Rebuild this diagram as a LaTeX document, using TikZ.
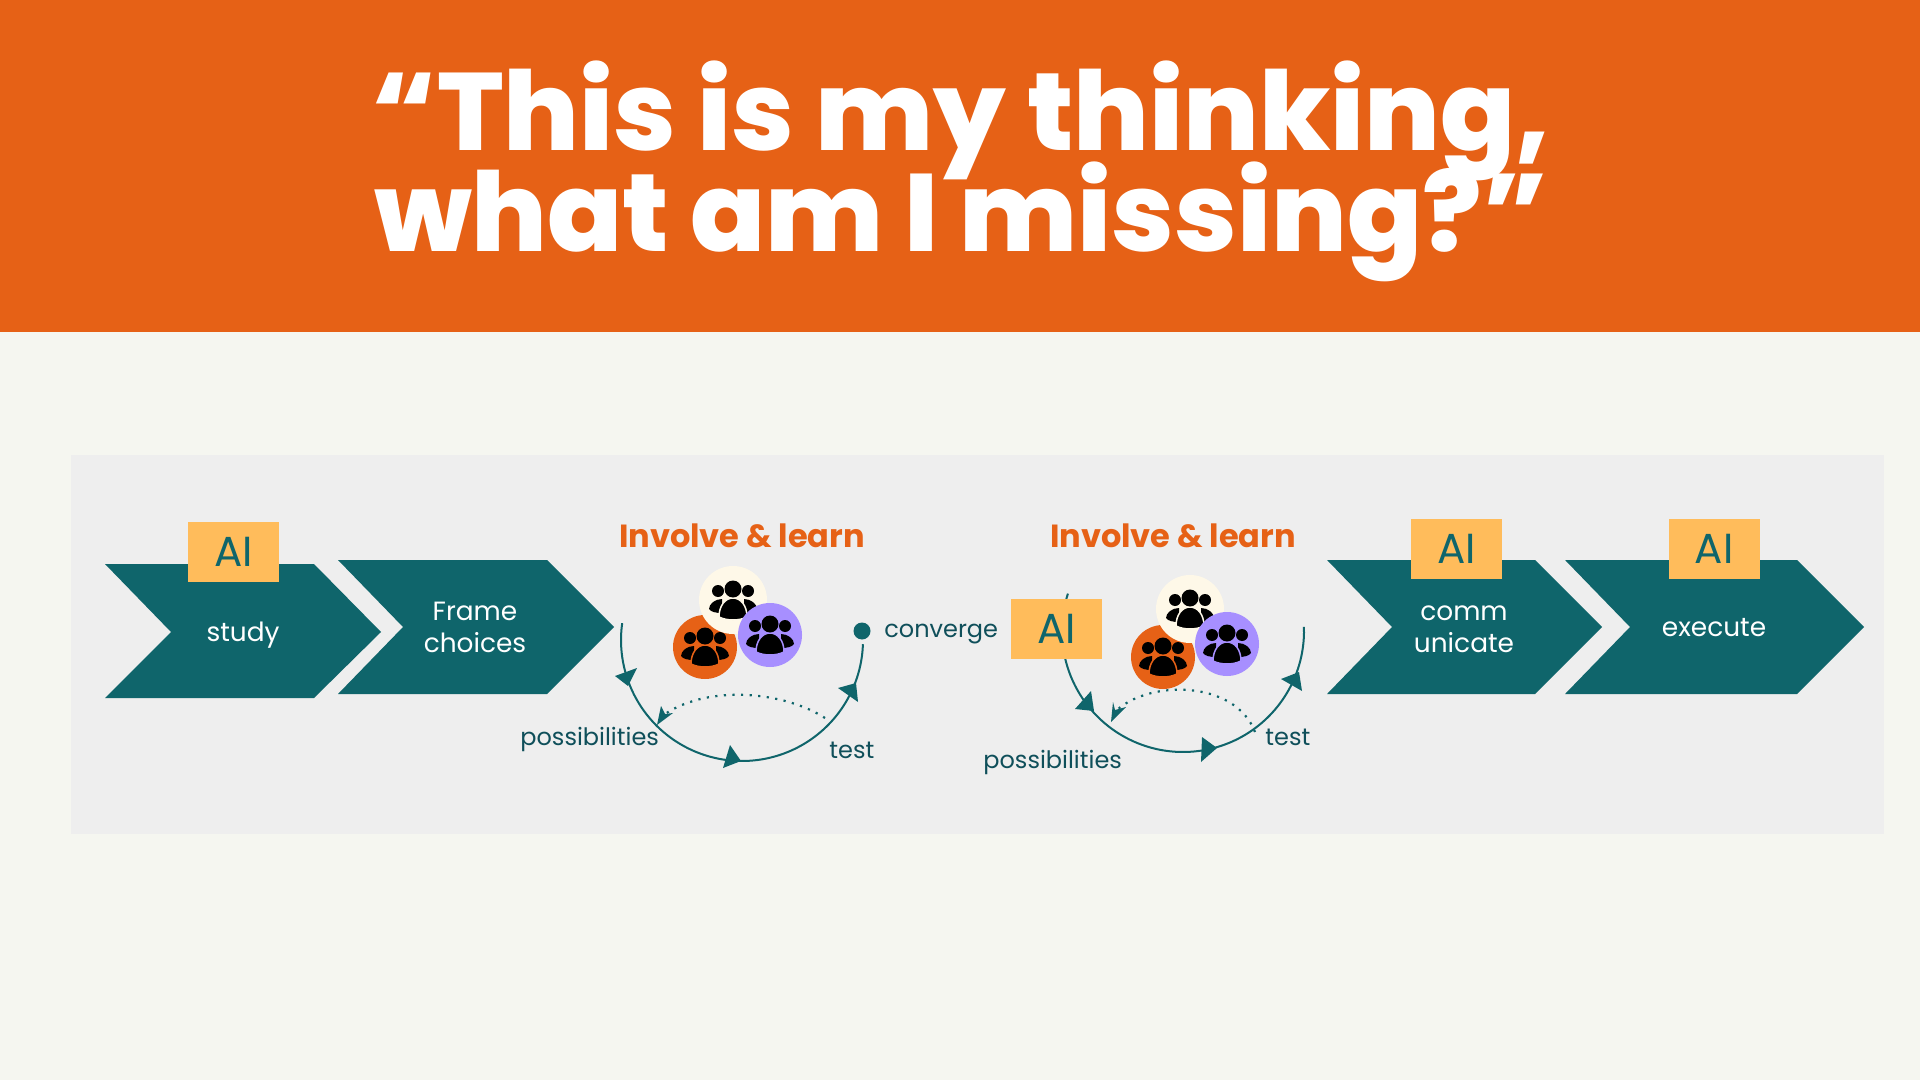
\documentclass[tikz,border=0pt]{standalone}
\usepackage{fontspec}
\setmainfont{Poppins}
\newfontfamily\titlefont{Poppins}[UprightFont=* ExtraBold,FakeStretch=1.005]
\definecolor{bgc}{HTML}{F5F6F0}
\definecolor{panelc}{HTML}{EEEEEE}
\definecolor{orangec}{HTML}{E66116}
\definecolor{tealc}{HTML}{0F656B}
\definecolor{labelc}{HTML}{0F4F5A}
\definecolor{aic}{HTML}{FFBC5B}
\definecolor{creamc}{HTML}{FEF8E8}
\definecolor{purplec}{HTML}{A78FFF}
\tikzset{
  x=0.5pt,y=-0.5pt,
  chev/.style={fill=tealc},
  chevtext/.style={text=white,font=\fontsize{13.2}{16}\selectfont,anchor=base,inner sep=0pt},
  flowlabel/.style={text=labelc,font=\fontsize{12}{16}\selectfont,anchor=base west,inner sep=0pt},
  headlabel/.style={text=orangec,font=\fontsize{16}{20}\selectfont\bfseries,anchor=base,inner sep=0pt},
  titletext/.style={text=white,font=\fontsize{55}{60}\selectfont\titlefont,anchor=base,inner sep=0pt},
  aibox/.style={fill=aic,text=tealc,inner sep=0pt,minimum width=45.5pt,minimum height=30pt,font=\fontsize{21}{22}\selectfont},
  disc/.style={circle,inner sep=0pt,minimum size=#1},
  flowline/.style={draw=tealc,line width=1pt},
  dotline/.style={draw=tealc,line width=1.1pt,dash pattern=on 1.1pt off 3.2pt},
  headfill/.style={fill=tealc},
  pics/people/.style={code={
    \fill[black] (-15,-9) circle (6);
    \fill[black] (15,-9) circle (6);
    \fill[black] (-11,-1) .. controls (-18,-1) and (-24,4) .. (-24,9) .. controls (-22,12) and (-17,13) .. (-11,13) -- cycle;
    \fill[black] (11,-1) .. controls (18,-1) and (24,4) .. (24,9) .. controls (22,12) and (17,13) .. (11,13) -- cycle;
    \fill[black,draw=#1,line width=0.75pt] (-14,17) .. controls (-14,6) and (-8,-2) .. (0,-2) .. controls (8,-2) and (14,6) .. (14,17) .. controls (6,21) and (-6,21) .. (-14,17) -- cycle;
    \fill[black] (0,-11) circle (8.5);
  }}
}
\begin{document}
\begin{tikzpicture}
\useasboundingbox (0,0) rectangle (1920,1080);
\fill[bgc] (0,0) rectangle (1920,1080);
\fill[orangec] (0,0) rectangle (1920,332);
\fill[panelc] (71,455) rectangle (1884,834);

\node[titletext] (title1) at (961,151) {“This is my thinking,};
\node[titletext] (title2) at (961,252) {what am I missing?”};

% chevrons
\fill[chev] (105,564) -- (314,564) -- (381,632) -- (314,698) -- (105,698) -- (171,632) -- cycle;
\fill[chev] (338,560) -- (547,560) -- (614,627) -- (547,694) -- (338,694) -- (403,627) -- cycle;
\fill[chev] (1327,560) -- (1535,560) -- (1602,627) -- (1535,694) -- (1327,694) -- (1392,627) -- cycle;
\fill[chev] (1565,560) -- (1797,560) -- (1864,627) -- (1797,694) -- (1565,694) -- (1630,627) -- cycle;

\node[chevtext] (study) at (243,641) {study};
\node[chevtext] (frame1) at (475,620) {Frame};
\node[chevtext] (frame2) at (475,652) {choices};
\node[chevtext] (comm1) at (1464,620) {comm};
\node[chevtext] (comm2) at (1464,652) {unicate};
\node[chevtext] (execute) at (1714,636) {execute};

\node[aibox] (aiA) at (233.5,551.5) {AI};
\node[aibox] (aiC) at (1456.5,549) {AI};
\node[aibox] (aiD) at (1714,549) {AI};

\node[headlabel] (inv1) at (742,547) {Involve \& learn};
\node[headlabel] (inv2) at (1173,547) {Involve \& learn};

% left cycle
\draw[flowline] plot[domain=188:2,samples=70,smooth] ({742+121*cos(\x)},{640+121*sin(\x)});
\fill[headfill] (615,676) -- (637,668) -- (628,686) -- cycle;
\fill[headfill] (730,745) -- (741,761) -- (723,768) -- cycle;
\fill[headfill] (838,688) -- (856,683) -- (858,702) -- cycle;
\node[disc=8.5pt,fill=tealc] (conv) at (862,631) {};
\coordinate (d1s) at (825,718);
\coordinate (d1e) at (665,714);
\draw[dotline] (d1s) .. controls (785,692) and (710,684) .. (d1e);
\fill[headfill] (657,725) -- (673,713) -- (665,714) -- (661,706) -- cycle;

% right cycle
\draw[flowline] plot[domain=198:-2,samples=70,smooth] ({1183+121*cos(\x)},{631+121*sin(\x)});
\fill[headfill] (1075,709) -- (1091,691) -- (1094,711) -- cycle;
\fill[headfill] (1202,737) -- (1217,748) -- (1201,762) -- cycle;
\fill[headfill] (1281,679) -- (1299,672) -- (1302,691) -- cycle;
\coordinate (d2s) at (1255,732);
\coordinate (d2e) at (1117,710);
\draw[dotline] (d2s) .. controls (1235,680) and (1150,680) .. (d2e);
\fill[headfill] (1111,722) -- (1126,707) -- (1115,710) -- (1113,702) -- cycle;
\node[aibox] (aiB) at (1056.5,629) {AI};

% discs
\node[disc=32pt,fill=orangec] (o1) at (705,647) {};
\pic at (o1.center) {people=orangec};
\node[disc=34pt,fill=creamc] (c1) at (733,600) {};
\pic at (c1.center) {people=creamc};
\node[disc=32pt,fill=purplec] (p1) at (770,635) {};
\pic at (p1.center) {people=purplec};
\node[disc=32pt,fill=orangec] (o2) at (1163,657) {};
\pic at (o2.center) {people=orangec};
\node[disc=34pt,fill=creamc] (c2) at (1190,609) {};
\pic at (c2.center) {people=creamc};
\node[disc=32pt,fill=purplec] (p2) at (1227,644) {};
\pic at (p2.center) {people=purplec};

\node[flowlabel] (poss1) at (520,745) {possibilities};
\node[flowlabel] (test1) at (829,758) {test};
\node[flowlabel] (conv1) at (884,637) {converge};
\node[flowlabel] (poss2) at (983,768) {possibilities};
\node[flowlabel] (test2) at (1265,745) {test};
\end{tikzpicture}
\end{document}
